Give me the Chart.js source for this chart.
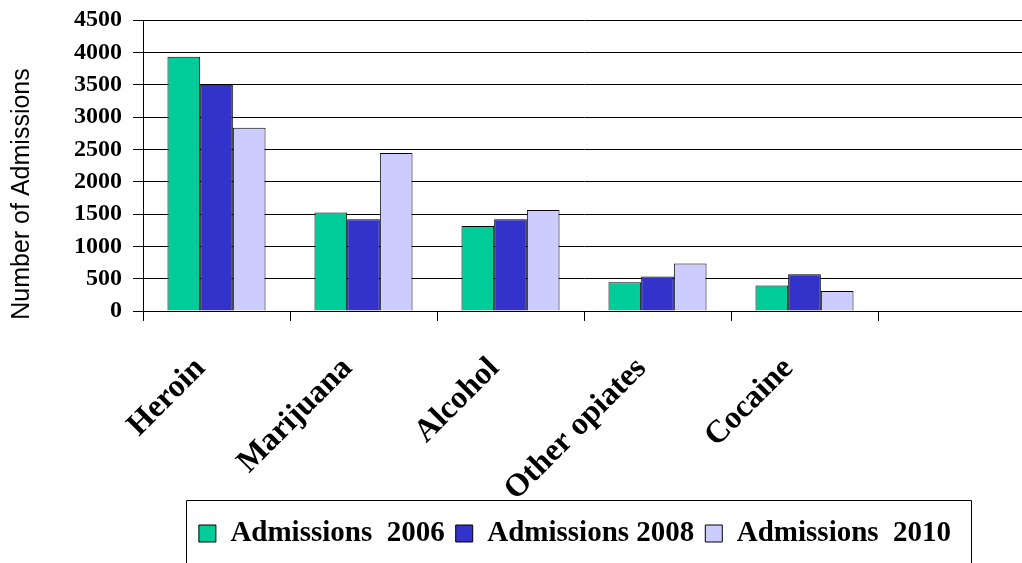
<!DOCTYPE html>
<html>
<head>
<meta charset="utf-8">
<title>Admissions by primary substance</title>
<script src="https://cdn.jsdelivr.net/npm/chart.js@4.4.1/dist/chart.umd.min.js"></script>
<style>
  html, body { margin: 0; padding: 0; background: #fff; overflow: hidden; }
</style>
</head>
<body>
<canvas id="admissionsChart" width="1025" height="563"></canvas>
<script>
// Chart data
const categories = ['Heroin', 'Marijuana', 'Alcohol', 'Other opiates', 'Cocaine', ''];
const seriesLabels = ['Admissions  2006', 'Admissions 2008', 'Admissions  2010'];
const admissions2006 = [3930, 1525, 1315, 445, 395, null];
const admissions2008 = [3500, 1420, 1420, 535, 570, null];
const admissions2010 = [2835, 2445, 1560, 735, 310, null];
const seriesColors = ['#00CC99', '#3333CC', '#CCCCFF'];
const yMax = 4500;
const yStep = 500;
const yTitle = 'Number of Admissions';

const serif = '"Liberation Serif", "Times New Roman", serif';
const sans = '"Liberation Sans", Arial, sans-serif';

// Draws the rotated y axis title
const yTitlePlugin = {
  id: 'yTitle',
  afterDraw(chart) {
    const ctx = chart.ctx;
    ctx.save();
    ctx.translate(22, 194);
    ctx.rotate(-Math.PI / 2);
    ctx.font = '25px ' + sans;
    ctx.fillStyle = '#000';
    ctx.textAlign = 'center';
    ctx.textBaseline = 'middle';
    ctx.fillText(yTitle, 0, 0);
    ctx.restore();
  }
};

// Nudges the legend a little left, then frames it
const legendFramePlugin = {
  id: 'legendFrame',
  afterLayout(chart) {
    if (!chart.legend) return;
    chart.legend.left -= 9;
    chart.legend.right -= 9;
  },
  afterDraw(chart) {
    const legend = chart.legend;
    if (!legend || !legend.legendHitBoxes.length) return;
    const boxes = legend.legendHitBoxes;
    const first = boxes[0];
    const last = boxes[boxes.length - 1];
    const left = Math.round(first.left - 13) + 0.5;
    const right = Math.round(last.left + last.width + 20) + 0.5;
    const top = Math.round(legend.top - 8) + 0.5;
    const ctx = chart.ctx;
    ctx.save();
    ctx.strokeStyle = '#000';
    ctx.lineWidth = 1;
    ctx.beginPath();
    ctx.moveTo(left, chart.height + 2);
    ctx.lineTo(left, top);
    ctx.lineTo(right, top);
    ctx.lineTo(right, chart.height + 2);
    ctx.stroke();
    ctx.restore();
  }
};

const datasets = [admissions2006, admissions2008, admissions2010].map((values, i) => ({
  label: seriesLabels[i],
  data: values,
  backgroundColor: seriesColors[i],
  borderColor: '#000',
  borderWidth: 1,
  barPercentage: 1.0,
  categoryPercentage: 0.667
}));

new Chart(document.getElementById('admissionsChart'), {
  type: 'bar',
  data: { labels: categories, datasets },
  plugins: [yTitlePlugin, legendFramePlugin],
  options: {
    responsive: false,
    animation: false,
    layout: { autoPadding: false, padding: { top: 20, left: 0, right: 0, bottom: 5 } },
    plugins: {
      tooltip: { enabled: false },
      legend: {
        position: 'bottom',
        fullSize: false,
        labels: {
          color: '#000',
          font: { family: serif, size: 29, weight: 'bold' },
          boxWidth: 17,
          boxHeight: 17,
          padding: 11
        }
      }
    },
    scales: {
      x: {
        offset: true,
        grid: {
          offset: true,
          drawOnChartArea: false,
          drawTicks: true,
          tickLength: 10,
          color: '#000'
        },
        border: { display: true, color: '#000', width: 1 },
        ticks: {
          color: '#000',
          font: { family: serif, size: 32, weight: 'bold' },
          minRotation: 45,
          maxRotation: 45,
          autoSkip: false,
          labelOffset: -16,
          padding: 29
        },
        afterFit(scale) { scale.height = 197; }
      },
      y: {
        min: 0,
        max: yMax,
        ticks: {
          stepSize: yStep,
          autoSkip: false,
          color: '#000',
          font: { family: serif, size: 24, weight: 'bold' },
          padding: 11,
          callback: value => String(value)
        },
        grid: { color: '#000', lineWidth: 1, tickLength: 10 },
        border: { display: true, color: '#000', width: 1 },
        afterFit(scale) {
          scale.width = 143;
          // the top label has room above the plot, no extra inset needed
          scale.paddingTop = 0;
          scale.paddingBottom = 0;
        }
      }
    }
  }
});
</script>
</body>
</html>
